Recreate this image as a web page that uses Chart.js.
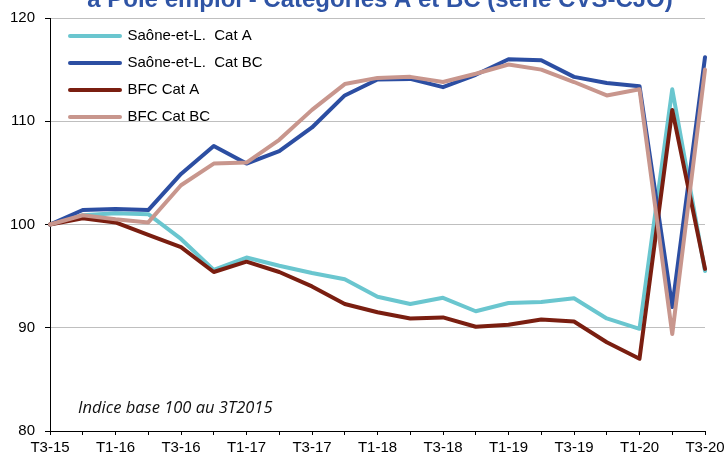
<!DOCTYPE html>
<html>
<head>
<meta charset="utf-8">
<script src="https://cdn.jsdelivr.net/npm/chart.js@4"></script>
<style>
html,body{margin:0;padding:0;background:#fff;}
canvas{display:block;}
</style>
</head>
<body>
<canvas id="c" width="728" height="453"></canvas>
<script>
// ---- data ----
const quarters = ["T3-15","T4-15","T1-16","T2-16","T3-16","T4-16","T1-17","T2-17","T3-17","T4-17","T1-18","T2-18","T3-18","T4-18","T1-19","T2-19","T3-19","T4-19","T1-20","T2-20","T3-20"];
const saoneCatA  = [100,100.9,101.1,101.0,98.6,95.6,96.8,96.0,95.3,94.7,93.0,92.3,92.9,91.6,92.4,92.5,92.85,90.9,89.9,113.1,95.5];
const saoneCatBC = [100,101.4,101.5,101.4,104.9,107.6,105.9,107.1,109.4,112.5,114.05,114.1,113.3,114.5,116.0,115.9,114.3,113.7,113.4,92.0,116.2];
const bfcCatA    = [100,100.6,100.2,99.0,97.8,95.4,96.4,95.4,94.0,92.3,91.5,90.9,91.0,90.1,90.3,90.8,90.6,88.6,87.0,111.1,95.7];
const bfcCatBC   = [100,100.9,100.5,100.2,103.8,105.9,106.0,108.2,111.1,113.6,114.2,114.3,113.8,114.6,115.5,115.0,113.8,112.5,113.1,89.4,115.0];
const seriesNames = ["Saône-et-L.  Cat A","Saône-et-L.  Cat BC","BFC Cat A","BFC Cat BC"];
const yMin = 80, yMax = 120, yStep = 10;
const titleText = "à Pôle emploi - Catégories A et BC (série CVS-CJO)";
const noteText = "Indice base 100 au 3T2015";

// ---- styles ----
const colors = ["#6AC6CF", "#2C4EA2", "#7A1E10", "#C8968D"];
const FONT = '"Liberation Sans", Arial, sans-serif';
Chart.defaults.font.family = FONT;
Chart.defaults.color = '#000';

const seriesData = [saoneCatA, saoneCatBC, bfcCatA, bfcCatBC];
const datasets = seriesData.map((d, i) => ({
  label: seriesNames[i],
  data: d,
  borderColor: colors[i],
  backgroundColor: colors[i],
  borderWidth: 4,
  pointRadius: 0,
  pointHoverRadius: 0,
  pointBorderWidth: 4,
  pointBorderColor: colors[i],
  tension: 0,
  borderCapStyle: 'round',
  borderJoinStyle: 'round',
  fill: false,
  order: 3 - i
}));

const extras = {
  id: 'extras',
  afterLayout(chart) {
    const lg = chart.legend;
    if (lg) { lg.left += 8; lg.top += 16.5; }
  },
  afterDraw(chart) {
    const {ctx, chartArea} = chart;
    ctx.save();
    ctx.font = 'bold 24px ' + FONT;
    ctx.fillStyle = '#2F54A5';
    ctx.textAlign = 'center';
    ctx.textBaseline = 'alphabetic';
    ctx.fillText(titleText, 380, 6.5);
    ctx.font = 'italic 16.5px "Open Sans", sans-serif';
    ctx.fillStyle = '#111';
    ctx.textAlign = 'left';
    ctx.fillText(noteText, chartArea.left + 28, chartArea.bottom - 18);
    ctx.restore();
  }
};

new Chart(document.getElementById('c'), {
  type: 'line',
  data: { labels: quarters, datasets },
  options: {
    responsive: false,
    animation: false,
    devicePixelRatio: 1,
    layout: { padding: 0 },
    plugins: {
      title: { display: false },
      tooltip: { enabled: false },
      legend: {
        position: 'chartArea',
        align: 'start',
        labels: {
          usePointStyle: true,
          pointStyle: 'line',
          pointStyleWidth: 50,
          padding: 12,
          color: '#000',
          font: { size: 15, family: FONT },
          sort: (a, b) => a.datasetIndex - b.datasetIndex,
          generateLabels(chart) {
            const items = Chart.defaults.plugins.legend.labels.generateLabels(chart);
            return items.map(it => Object.assign(it, {
              lineWidth: 4,
              lineCap: 'round',
              strokeStyle: colors[it.datasetIndex]
            }));
          }
        }
      }
    },
    scales: {
      x: {
        type: 'category',
        offset: false,
        grid: { drawOnChartArea: false, drawTicks: true, tickLength: 4, tickColor: '#000', color: '#000', offset: false },
        border: { display: true, color: '#000', width: 1 },
        ticks: {
          autoSkip: false, maxRotation: 0, minRotation: 0, padding: 3.5,
          color: '#000', font: { size: 15 },
          callback: function (v, i) { return i % 2 === 0 ? this.getLabelForValue(v) : ''; }
        },
        afterFit(s) { s.height = 22; s.paddingLeft = 0; s.paddingRight = 23; }
      },
      y: {
        min: yMin, max: yMax,
        grid: {
          drawOnChartArea: true, drawTicks: true, tickLength: 5, tickColor: '#000',
          color: c => (c.tick && c.tick.value === yMin) ? 'rgba(0,0,0,0)' : '#BFBFBF',
          lineWidth: 1
        },
        border: { display: true, color: '#000', width: 1 },
        ticks: { stepSize: yStep, padding: 10, color: '#000', font: { size: 15 } },
        afterFit(s) { s.width = 50; s.paddingTop = 18; s.paddingBottom = 0; }
      }
    }
  },
  plugins: [extras]
});
</script>
</body>
</html>
